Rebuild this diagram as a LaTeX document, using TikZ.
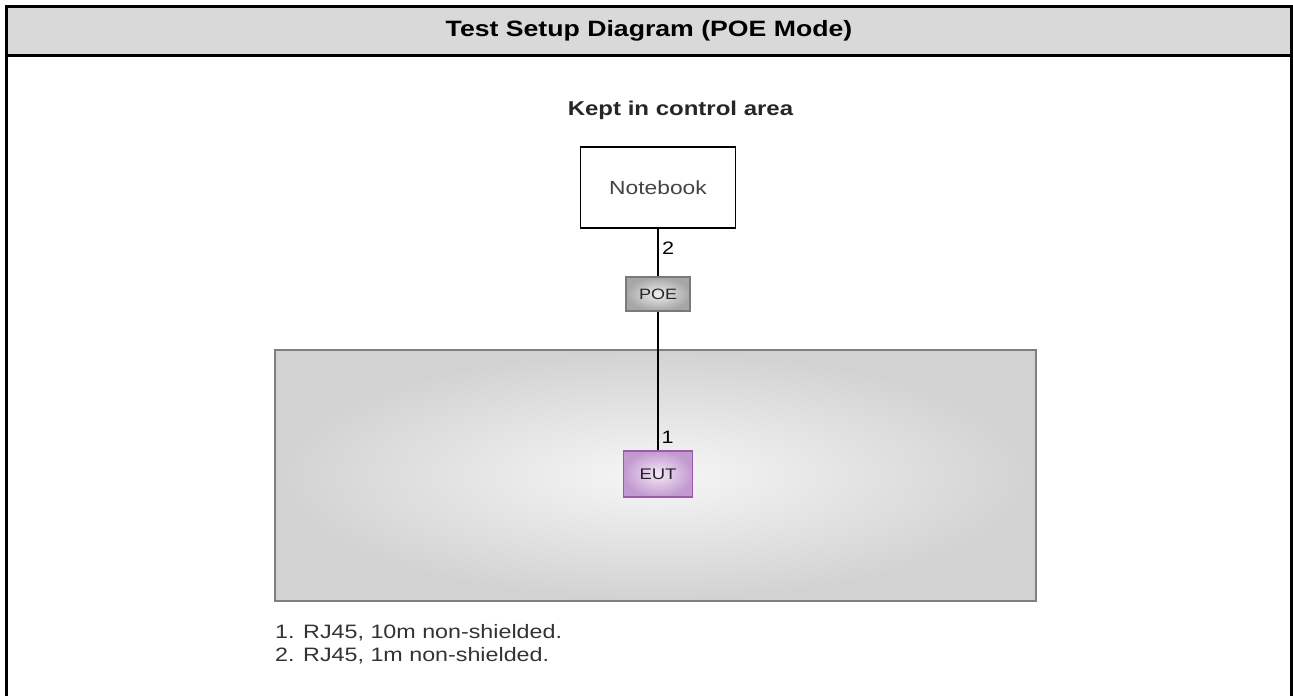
\documentclass[tikz,border=0pt]{standalone}
\usepackage{fontspec}
\setmainfont{Liberation Sans}
\usepackage{graphicx}
\definecolor{hdr}{HTML}{D9D9D9}
\definecolor{areaout}{HTML}{D2D2D2}
\definecolor{areain}{HTML}{F6F6F6}
\definecolor{areaedge}{HTML}{7F7F7F}
\definecolor{poeout}{HTML}{A6A6A6}
\definecolor{poein}{HTML}{EEEEEE}
\definecolor{poeedge}{HTML}{7A7A7A}
\definecolor{eutout}{HTML}{C39AD0}
\definecolor{eutin}{HTML}{F3E8F6}
\definecolor{eutedge}{HTML}{9A5AAE}
\definecolor{txtgray}{HTML}{444444}
\definecolor{notegray}{HTML}{333333}
\newcommand{\hst}[1]{\scalebox{1.2}[1]{#1}}
\tikzset{
  device/.style={draw, line width=1.2pt, inner sep=0pt},
  linklbl/.style={inner sep=0pt, font=\fontsize{18}{20}\selectfont},
  cable/.style={line width=1.2pt},
}
\begin{document}
\begin{tikzpicture}[x=1pt,y=-1pt]
\useasboundingbox (0,0) rectangle (1293,696);
% header
\fill[hdr] (8,8) rectangle (1290,54);
\draw[line width=3pt] (6.5,696) -- (6.5,6.5) -- (1291.8,6.5) -- (1291.8,696);
\draw[line width=3pt] (6.5,55.5) -- (1291.8,55.5);
\node (title) at (649,31) {\fontsize{22.2}{25}\selectfont\bfseries\hst{Test Setup Diagram (POE Mode)}};
% control area label
\node (kept) at (680.5,110) {\fontsize{20}{23}\selectfont\bfseries\color{black!85}\hst{Kept in control area}};
% test area
\draw[areaedge, line width=1.6pt, inner color=areain, outer color=areaout] (275,350) rectangle (1036,601);
% devices
\node[device, fill=white, minimum width=155pt, minimum height=81pt] (nb) at (658,187.5)
  {\fontsize{19}{21}\selectfont\color{txtgray}\hst{Notebook}};
\node[device, draw=poeedge, inner color=poein, outer color=poeout, minimum width=64pt, minimum height=34pt] (poe) at (658,294)
  {\fontsize{15}{17}\selectfont\color{black!85}\hst{POE}};
\node[device, draw=eutedge, inner color=eutin, outer color=eutout, minimum width=69pt, minimum height=46pt] (eut) at (658,474)
  {\fontsize{15.4}{17}\selectfont\color{black!85}\hst{EUT}};
% cables
\draw[cable] (nb.south) -- (poe.north);
\draw[cable] (poe.south) -- (eut.north);
\node[linklbl] (l2) at (668,248) {\hst{2}};
\node[linklbl] (l1) at (667.5,437) {\hst{1}};
% notes
\node[anchor=west, inner sep=0pt] (n1) at (275,633) {\fontsize{19.4}{22}\selectfont\color{notegray}\hst{1. RJ45, 10m non-shielded.}};
\node[anchor=west, inner sep=0pt] (n2) at (275,656) {\fontsize{19.4}{22}\selectfont\color{notegray}\hst{2. RJ45, 1m non-shielded.}};
\end{tikzpicture}
\end{document}
